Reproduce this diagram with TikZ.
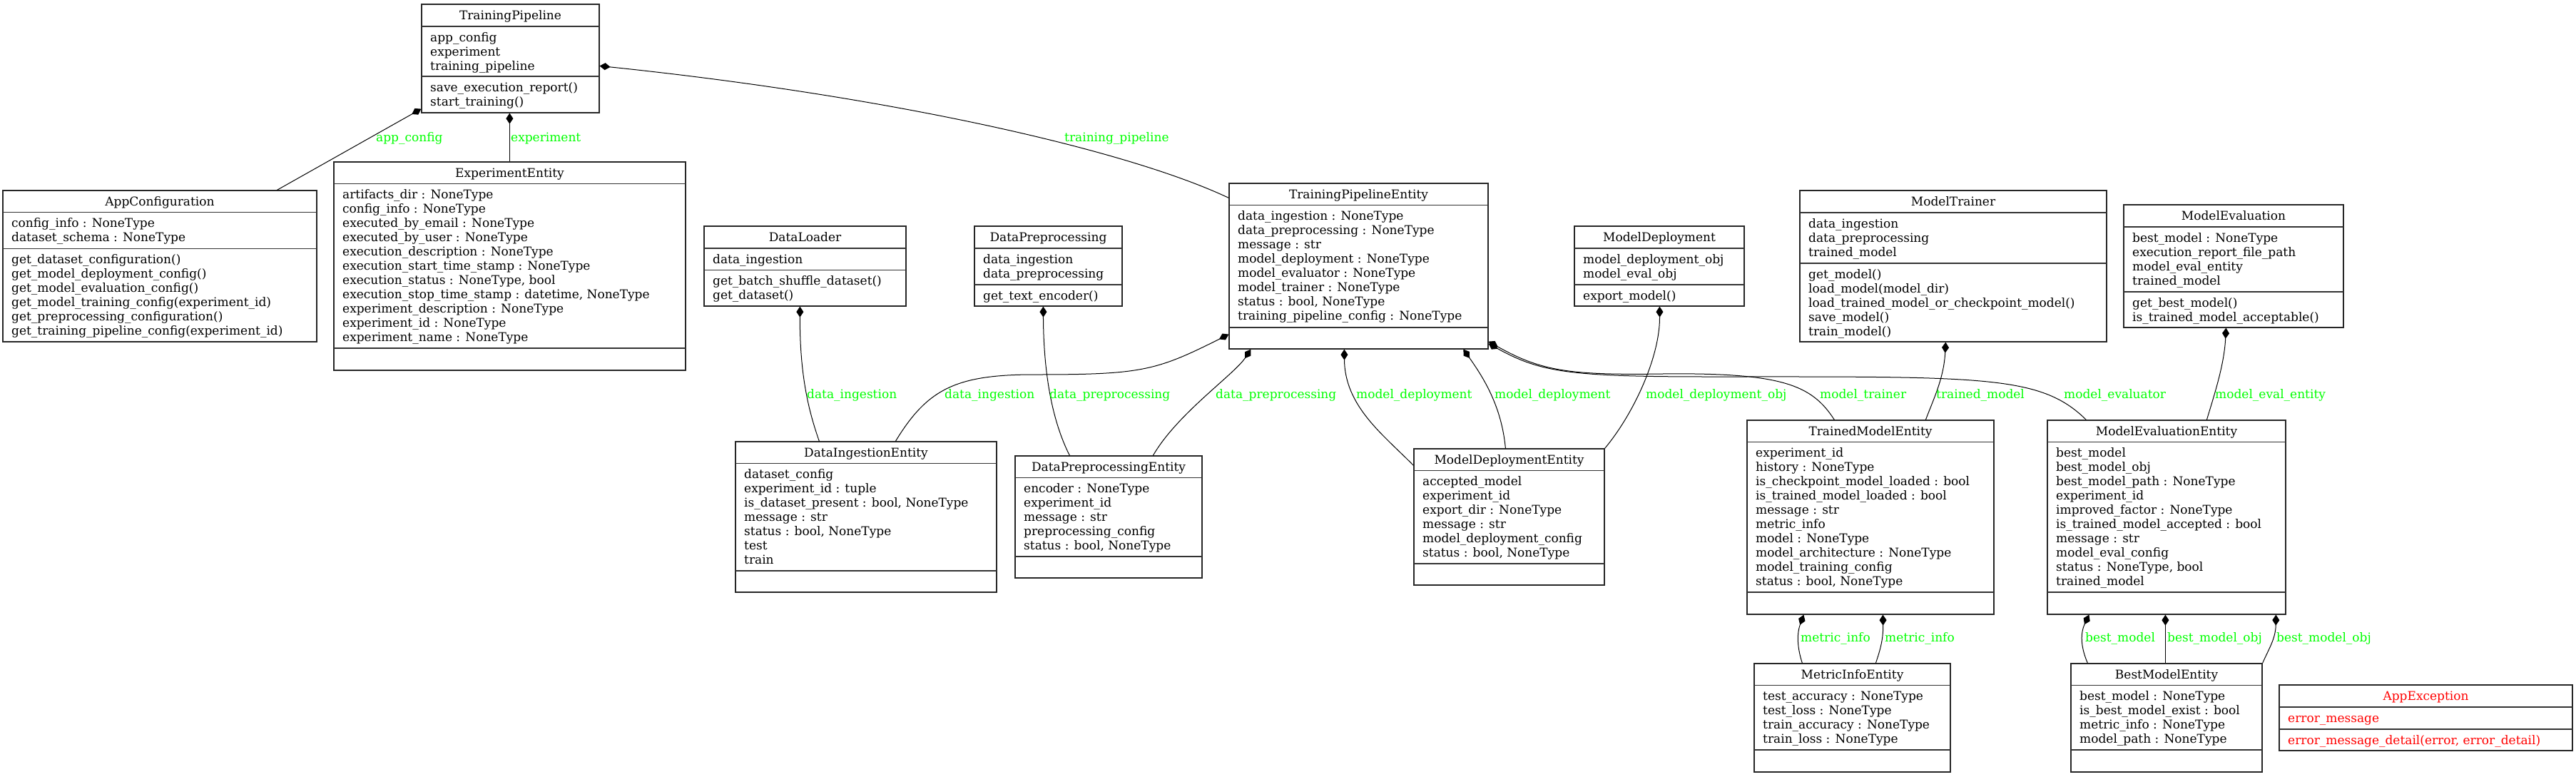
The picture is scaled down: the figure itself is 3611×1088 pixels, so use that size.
\documentclass[tikz,border=0pt]{standalone}
\usepackage{fontspec}
\setmainfont{DejaVu Serif}
\usetikzlibrary{arrows.meta}
\definecolor{lblgreen}{RGB}{0,255,0}
\definecolor{excred}{RGB}{255,0,0}
\newcommand\bodyfont{\fontsize{17}{20}\selectfont}
\newcommand\umlcls[9]{%
  \node[clsbox, minimum width={(#4-#2)*1pt}, minimum height={(#5-#3)*1pt}] (#1) at ({(#2+#4)/2},{(#3+#5)/2}) {};
  \draw[clsline] (#2,#6) -- (#4,#6);
  \draw[clsline] (#2,#7) -- (#4,#7);
  \node[clstitle] (#1-title) at ({(#2+#4)/2},{#3+21}) {#8};
  \node[clstext] (#1-attrs) at ({#2+12},{#6+7}) {\strut #9};
}
\newcommand\umlmeth[4]{\node[clstext] (#1-meth) at ({#2+12},{#3+7}) {\strut #4};}
\tikzset{
  clsbox/.style={draw=black!85, line width=1.25pt, inner sep=0pt, fill=white},
  clsline/.style={draw=black!80, line width=1.25pt},
  clstitle/.style={anchor=base, inner sep=0pt, font=\bodyfont},
  clstext/.style={anchor=north west, inner sep=0pt, align=left, font=\bodyfont},
  lbl/.style={anchor=base west, inner sep=0pt, font=\bodyfont, text=lblgreen},
  comp/.style={{Diamond[length=15pt,width=10pt]}-, line width=1pt, black},
}
\begin{document}
\begin{tikzpicture}[x=1pt,y=-1pt]
\useasboundingbox[fill=white] (0,0) rectangle (3611,1088);

% ---------- classes ----------
\umlcls{TP}{591}{6}{840}{158}{37}{107}{TrainingPipeline}{app\_config\\experiment\\training\_pipeline}
\umlmeth{TP}{591}{107}{save\_execution\_report()\\start\_training()}

\umlcls{AC}{4}{267}{444}{479}{297.5}{348.5}{AppConfiguration}{config\_info : NoneType\\dataset\_schema : NoneType}
\umlmeth{AC}{4}{348.5}{get\_dataset\_configuration()\\get\_model\_deployment\_config()\\get\_model\_evaluation\_config()\\get\_model\_training\_config(experiment\_id)\\get\_preprocessing\_configuration()\\get\_training\_pipeline\_config(experiment\_id)}

\umlcls{EE}{468}{227}{961}{519}{257.5}{488}{ExperimentEntity}{artifacts\_dir : NoneType\\config\_info : NoneType\\executed\_by\_email : NoneType\\executed\_by\_user : NoneType\\execution\_description : NoneType\\execution\_start\_time\_stamp : NoneType\\execution\_status : NoneType, bool\\execution\_stop\_time\_stamp : datetime, NoneType\\experiment\_description : NoneType\\experiment\_id : NoneType\\experiment\_name : NoneType}

\umlcls{DL}{987}{317}{1270}{429}{348}{378.5}{DataLoader}{data\_ingestion}
\umlmeth{DL}{987}{378.5}{get\_batch\_shuffle\_dataset()\\get\_dataset()}

\umlcls{DP}{1366}{317}{1573}{429}{348}{399}{DataPreprocessing}{data\_ingestion\\data\_preprocessing}
\umlmeth{DP}{1366}{399}{get\_text\_encoder()}

\umlcls{TPE}{1723}{257}{2086}{489}{287.5}{459}{TrainingPipelineEntity}{data\_ingestion : NoneType\\data\_preprocessing : NoneType\\message : str\\model\_deployment : NoneType\\model\_evaluator : NoneType\\model\_trainer : NoneType\\status : bool, NoneType\\training\_pipeline\_config : NoneType}

\umlcls{MD}{2207}{317}{2445}{429}{348}{399}{ModelDeployment}{model\_deployment\_obj\\model\_eval\_obj}
\umlmeth{MD}{2207}{399}{export\_model()}

\umlcls{MT}{2523}{267}{2953}{479}{298}{369}{ModelTrainer}{data\_ingestion\\data\_preprocessing\\trained\_model}
\umlmeth{MT}{2523}{369}{get\_model()\\load\_model(model\_dir)\\load\_trained\_model\_or\_checkpoint\_model()\\save\_model()\\train\_model()}

\umlcls{ME}{2977}{287}{3285}{459}{318}{409}{ModelEvaluation}{best\_model : NoneType\\execution\_report\_file\_path\\model\_eval\_entity\\trained\_model}
\umlmeth{ME}{2977}{409}{get\_best\_model()\\is\_trained\_model\_acceptable()}

\umlcls{DIE}{1031}{619}{1397}{830}{649.5}{800}{DataIngestionEntity}{dataset\_config\\experiment\_id : tuple\\is\_dataset\_present : bool, NoneType\\message : str\\status : bool, NoneType\\test\\train}

\umlcls{DPE}{1423}{639}{1685}{810}{669.5}{780}{DataPreprocessingEntity}{encoder : NoneType\\experiment\_id\\message : str\\preprocessing\_config\\status : bool, NoneType}

\umlcls{MDE}{1982}{629}{2249}{820}{659.5}{790}{ModelDeploymentEntity}{accepted\_model\\experiment\_id\\export\_dir : NoneType\\message : str\\model\_deployment\_config\\status : bool, NoneType}

\umlcls{TME}{2449}{589}{2795}{861}{619.5}{830}{TrainedModelEntity}{experiment\_id\\history : NoneType\\is\_checkpoint\_model\_loaded : bool\\is\_trained\_model\_loaded : bool\\message : str\\metric\_info\\model : NoneType\\model\_architecture : NoneType\\model\_training\_config\\status : bool, NoneType}

\umlcls{MEE}{2870}{589}{3204}{861}{619.5}{830}{ModelEvaluationEntity}{best\_model\\best\_model\_obj\\best\_model\_path : NoneType\\experiment\_id\\improved\_factor : NoneType\\is\_trained\_model\_accepted : bool\\message : str\\model\_eval\_config\\status : NoneType, bool\\trained\_model}

\umlcls{MIE}{2459}{930}{2734}{1082}{960.5}{1051}{MetricInfoEntity}{test\_accuracy : NoneType\\test\_loss : NoneType\\train\_accuracy : NoneType\\train\_loss : NoneType}

\umlcls{BME}{2903}{930}{3171}{1082}{960.5}{1051}{BestModelEntity}{best\_model : NoneType\\is\_best\_model\_exist : bool\\metric\_info : NoneType\\model\_path : NoneType}

\umlcls{AE}{3195}{960}{3606}{1052}{991}{1022}{\textcolor{excred}{AppException}}{\textcolor{excred}{error\_message}}
\umlmeth{AE}{3195}{1022}{\textcolor{excred}{error\_message\_detail(error, error\_detail)}}

% ---------- connectors ----------
\draw[comp] ([yshift=6pt]TP.south west) -- ([xshift=385pt]AC.north west);
\draw[comp] ([xshift=124pt]TP.south west) -- ([xshift=247pt]EE.north west);
\draw[comp] ([yshift=-87pt]TP.north east) .. controls (1250,135) and (1580,210) .. ([yshift=-21pt]TPE.north west);
\draw[comp] ([xshift=135pt]DL.south west) .. controls (1121,530) and (1135,580) .. ([xshift=118pt]DIE.north west);
\draw[comp] ([yshift=21pt]TPE.south west) .. controls (1620,520) and (1600,525) .. (1450,525) .. controls (1340,525) and (1300,545) .. ([xshift=225pt]DIE.north west);
\draw[comp] ([xshift=97pt]DP.south west) .. controls (1463,540) and (1480,600) .. ([xshift=77pt]DPE.north west);
\draw[comp] ([xshift=31pt]TPE.south west) .. controls (1730,525) and (1650,580) .. ([xshift=194pt]DPE.north west);
\draw[comp] ([xshift=162pt]TPE.south west) .. controls (1885,570) and (1940,610) .. ([yshift=-24pt]MDE.north west);
\draw[comp] ([xshift=329pt]TPE.south west) .. controls (2080,530) and (2105,570) .. ([xshift=129pt]MDE.north west);
\draw[comp] ([xshift=120pt]MD.south west) .. controls (2327,500) and (2290,580) .. (MDE.north east);
\draw[comp] ([yshift=11pt]TPE.south east) .. controls (2160,520) and (2200,526) .. (2330,524) .. controls (2500,522) and (2540,540) .. ([xshift=123pt]TME.north west);
\draw[comp] ([yshift=8pt]TPE.south east) .. controls (2160,522) and (2200,528) .. (2400,528) .. controls (2780,528) and (2860,525) .. ([xshift=55pt]MEE.north west);
\draw[comp] ([xshift=205pt]MT.south west) .. controls (2725,530) and (2710,560) .. ([xshift=251pt]TME.north west);
\draw[comp] ([xshift=144pt]ME.south west) .. controls (3118,510) and (3105,550) .. ([xshift=224pt]MEE.north west);
\draw[comp] ([xshift=80pt]TME.south west) .. controls (2518,890) and (2520,910) .. ([xshift=68pt]MIE.north west);
\draw[comp] ([xshift=191pt]TME.south west) .. controls (2640,895) and (2636,910) .. ([xshift=171pt]MIE.north west);
\draw[comp] ([xshift=59pt]MEE.south west) .. controls (2915,890) and (2918,910) .. ([xshift=24pt]BME.north west);
\draw[comp] ([xshift=166pt]MEE.south west) -- ([xshift=133pt]BME.north west);
\draw[comp] ([xshift=321pt]MEE.south west) .. controls (3190,895) and (3180,910) .. (BME.north east);

% ---------- connector labels ----------
\node[lbl] (l1) at (527,198) {app\_config};
\node[lbl] (l2) at (716,198) {experiment};
\node[lbl] (l3) at (1492,198) {training\_pipeline};
\node[lbl] (l4) at (1131,558) {data\_ingestion};
\node[lbl] (l5) at (1324,558) {data\_ingestion};
\node[lbl] (l6) at (1471,558) {data\_preprocessing};
\node[lbl] (l7) at (1704,558) {data\_preprocessing};
\node[lbl] (l8) at (1901,558) {model\_deployment};
\node[lbl] (l9) at (2095,558) {model\_deployment};
\node[lbl] (l10) at (2307,558) {model\_deployment\_obj};
\node[lbl] (l11) at (2551,558) {model\_trainer};
\node[lbl] (l12) at (2714,558) {trained\_model};
\node[lbl] (l13) at (2893,558) {model\_evaluator};
\node[lbl] (l14) at (3105,558) {model\_eval\_entity};
\node[lbl] (l15) at (2524,899) {metric\_info};
\node[lbl] (l16) at (2642,899) {metric\_info};
\node[lbl] (l17) at (2923,899) {best\_model};
\node[lbl] (l18) at (3038,899) {best\_model\_obj};
\node[lbl] (l19) at (3191,899) {best\_model\_obj};
\end{tikzpicture}
\end{document}
